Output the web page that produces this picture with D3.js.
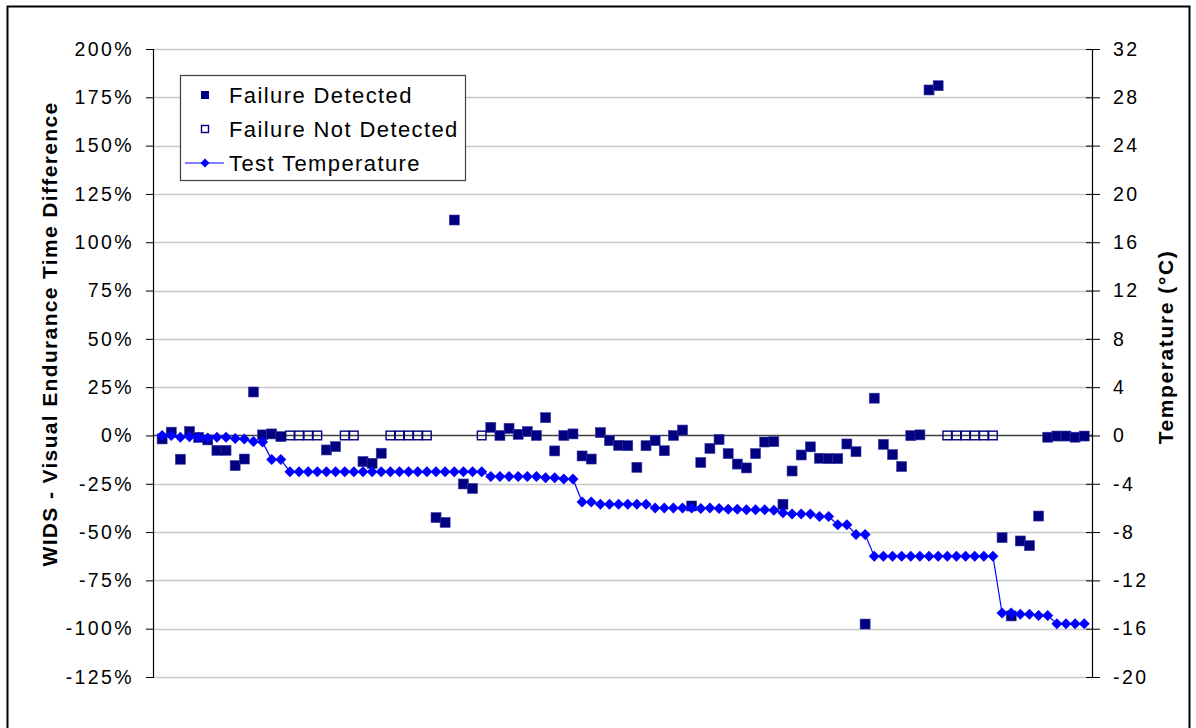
<!DOCTYPE html>
<html>
<head>
<meta charset="utf-8">
<script src="https://cdn.jsdelivr.net/npm/d3@7"></script>
<style>
  html, body { margin: 0; padding: 0; background: #fff; }
  svg { display: block; }
  text { font-family: "Liberation Sans", Arial, Helvetica, sans-serif; fill: #000; }
</style>
</head>
<body>
<svg id="chart" width="1196" height="728"></svg>
<script>
// WIDS vs visual endurance time difference (%) for each test, in test order
const diffPct = [
  -1.8, 1.7, -12.3, 2.0, -1.0, -2.3, -7.7, -7.7, -15.6, -12.2,
  22.5, 0.3, 0.8, -0.6, 0, 0, 0, 0, -7.5, -5.8,
  0, 0, -13.5, -14.4, -9.2, 0, 0, 0, 0, 0,
  -42.5, -45.0, 111.5, -25.1, -27.4, 0, 4.2, 0.0, 3.7, 0.6,
  2.0, 0.0, 9.2, -8.0, 0.0, 0.8, -10.6, -12.2, 1.5, -2.7,
  -5.1, -5.3, -16.5, -5.3, -2.7, -7.9, 0.0, 2.8, -36.5, -14.0,
  -6.7, -2.1, -9.4, -14.8, -16.8, -9.4, -3.4, -3.2, -35.6, -18.4,
  -10.1, -5.9, -11.8, -12.0, -12.0, -4.4, -8.4, -97.6, 19.3, -4.6,
  -9.9, -16.1, -0.1, 0.3, 178.8, 181.0, 0, 0, 0, 0,
  0, 0, -52.9, -93.4, -54.6, -57.0, -41.7, -0.9, -0.3, -0.3,
  -0.9, -0.3
];

// 1 = WIDS detected the failure, 0 = not detected
const detected = [
  1,1,1,1,1,1,1,1,1,1,
  1,1,1,1,0,0,0,0,1,1,
  0,0,1,1,1,0,0,0,0,0,
  1,1,1,1,1,0,1,1,1,1,
  1,1,1,1,1,1,1,1,1,1,
  1,1,1,1,1,1,1,1,1,1,
  1,1,1,1,1,1,1,1,1,1,
  1,1,1,1,1,1,1,1,1,1,
  1,1,1,1,1,1,0,0,0,0,
  0,0,1,1,1,1,1,1,1,1,
  1,1
];

// Test temperature (°C) for each test
const tempC = [
  0.0, 0.0, -0.15, -0.1, -0.15, -0.2, -0.15, -0.15, -0.25, -0.3,
  -0.5, -0.55, -2.0, -2.0, -3.0, -3.0, -3.0, -3.0, -3.0, -3.0,
  -3.0, -3.0, -3.0, -3.0, -3.0, -3.0, -3.0, -3.0, -3.0, -3.0,
  -3.0, -3.0, -3.0, -3.0, -3.0, -3.0, -3.4, -3.4, -3.4, -3.4,
  -3.4, -3.4, -3.5, -3.5, -3.6, -3.6, -5.5, -5.5, -5.7, -5.7,
  -5.7, -5.7, -5.7, -5.7, -6.0, -6.0, -6.0, -6.0, -6.0, -6.05,
  -6.0, -6.05, -6.1, -6.1, -6.15, -6.15, -6.15, -6.2, -6.4, -6.5,
  -6.5, -6.5, -6.7, -6.7, -7.4, -7.4, -8.2, -8.2, -10.0, -10.0,
  -10.0, -10.0, -10.0, -10.0, -10.0, -10.0, -10.0, -10.0, -10.0, -10.0,
  -10.0, -10.0, -14.7, -14.7, -14.8, -14.8, -14.9, -14.9, -15.6, -15.6,
  -15.6, -15.6
];

const leftTicks = [200, 175, 150, 125, 100, 75, 50, 25, 0, -25, -50, -75, -100, -125];
const rightTicks = [32, 28, 24, 20, 16, 12, 8, 4, 0, -4, -8, -12, -16, -20];

const seriesNames = ["Failure Detected", "Failure Not Detected", "Test Temperature"];
const leftTitle = "WIDS - Visual Endurance Time Difference";
const rightTitle = "Temperature (°C)";

const svg = d3.select("#chart");
const plot = { left: 153, right: 1092, top: 49, bottom: 677 };

const idx = d3.range(diffPct.length);
const x = d3.scaleLinear().domain([-1, 101.85]).range([plot.left, plot.right]);
const yL = d3.scaleLinear().domain([-125, 200]).range([plot.bottom, plot.top]);
const yR = d3.scaleLinear().domain([-20, 32]).range([plot.bottom, plot.top]);

const navy = "#000080";
const blue = "#0000ff";

// outer chart frame
svg.append("rect")
  .attr("x", 7.5).attr("y", 6.5)
  .attr("width", 1182).attr("height", 740)
  .attr("fill", "#fff").attr("stroke", "#000").attr("stroke-width", 2);

// horizontal gridlines
svg.append("g")
  .selectAll("line")
  .data(leftTicks.filter(d => d !== 0))
  .join("line")
  .attr("x1", plot.left).attr("x2", plot.right)
  .attr("y1", d => Math.round(yL(d)) + 0.5)
  .attr("y2", d => Math.round(yL(d)) + 0.5)
  .attr("stroke", "#c8c8c8").attr("stroke-width", 1.5);

// zero line (category axis)
svg.append("line")
  .attr("x1", plot.left).attr("x2", plot.right)
  .attr("y1", Math.round(yL(0)) + 0.5).attr("y2", Math.round(yL(0)) + 0.5)
  .attr("stroke", "#404040").attr("stroke-width", 1.5);

// left axis
const leftAxis = d3.axisLeft(yL)
  .tickValues(leftTicks)
  .tickSize(7)
  .tickPadding(12)
  .tickFormat(d => d + "%");
const gL = svg.append("g")
  .attr("transform", `translate(${plot.left},0)`)
  .call(leftAxis);
gL.select(".domain").attr("stroke", "#000").attr("stroke-width", 1.2);
gL.selectAll(".tick line").attr("stroke", "#000");
gL.selectAll(".tick text")
  .attr("font-size", 19.5)
  .attr("letter-spacing", 2.4)
  .attr("fill", "#000")
  .style("font-family", "'Liberation Sans', Arial, sans-serif");

// right axis
const rightAxis = d3.axisRight(yR)
  .tickValues(rightTicks)
  .tickSize(8)
  .tickPadding(13)
  .tickFormat(d => d);
const gR = svg.append("g")
  .attr("transform", `translate(${plot.right},0)`)
  .call(rightAxis);
gR.select(".domain").attr("stroke", "#000").attr("stroke-width", 1.2);
gR.selectAll(".tick line").attr("stroke", "#000").attr("x1", -6);
gR.selectAll(".tick text")
  .attr("font-size", 19.5)
  .attr("letter-spacing", 2.4)
  .attr("fill", "#000")
  .style("font-family", "'Liberation Sans', Arial, sans-serif");

// axis titles
svg.append("text")
  .attr("transform", `translate(57,334) rotate(-90)`)
  .attr("text-anchor", "middle")
  .attr("font-size", 21)
  .attr("font-weight", "bold")
  .attr("letter-spacing", 1.35)
  .text(leftTitle);

svg.append("text")
  .attr("transform", `translate(1173,347) rotate(-90)`)
  .attr("text-anchor", "middle")
  .attr("font-size", 21)
  .attr("font-weight", "bold")
  .attr("letter-spacing", 1.6)
  .text(rightTitle);

// detected failures (filled squares)
const sq = 10;
svg.append("g")
  .selectAll("rect")
  .data(idx.filter(i => detected[i] === 1))
  .join("rect")
  .attr("x", i => x(i) - sq / 2)
  .attr("y", i => yL(diffPct[i]) - sq / 2)
  .attr("width", sq).attr("height", sq)
  .attr("fill", navy)
  .attr("stroke", "#3a3aa0").attr("stroke-width", 0.6);

// undetected failures (hollow squares)
svg.append("g")
  .selectAll("rect")
  .data(idx.filter(i => detected[i] === 0))
  .join("rect")
  .attr("x", i => x(i) - sq / 2 + 0.7)
  .attr("y", i => yL(diffPct[i]) - sq / 2 + 0.7)
  .attr("width", sq - 1.4).attr("height", sq - 1.4)
  .attr("fill", "none")
  .attr("stroke", navy).attr("stroke-width", 1.4);

// test temperature line with diamond markers
const line = d3.line().x(i => x(i)).y(i => yR(tempC[i]));
svg.append("path")
  .datum(idx)
  .attr("d", line)
  .attr("fill", "none")
  .attr("stroke", blue).attr("stroke-width", 1.2);

const diamond = (cx, cy, r) => `M${cx},${cy - r}L${cx + r},${cy}L${cx},${cy + r}L${cx - r},${cy}Z`;
svg.append("g")
  .selectAll("path")
  .data(idx)
  .join("path")
  .attr("d", i => diamond(x(i), yR(tempC[i]), 5.5))
  .attr("fill", blue);

// legend
const lg = svg.append("g");
lg.append("rect")
  .attr("x", 180.5).attr("y", 75.5)
  .attr("width", 285).attr("height", 105)
  .attr("fill", "#fff").attr("stroke", "#404040").attr("stroke-width", 1.2);

const rowY = [95, 129, 163];
lg.append("rect")
  .attr("x", 201).attr("y", rowY[0] - 4).attr("width", 8).attr("height", 8)
  .attr("fill", navy);
lg.append("rect")
  .attr("x", 201.5).attr("y", rowY[1] - 3.5).attr("width", 7).attr("height", 7)
  .attr("fill", "#fff").attr("stroke", navy).attr("stroke-width", 1.4);
lg.append("line")
  .attr("x1", 185).attr("x2", 224).attr("y1", rowY[2]).attr("y2", rowY[2])
  .attr("stroke", blue).attr("stroke-width", 1.2);
lg.append("path")
  .attr("d", diamond(205, rowY[2], 4.5))
  .attr("fill", blue);

lg.selectAll("text.lbl")
  .data(seriesNames)
  .join("text")
  .attr("class", "lbl")
  .attr("x", 229)
  .attr("y", (d, i) => rowY[i])
  .attr("dy", "0.36em")
  .attr("font-size", 22)
  .attr("letter-spacing", 1.4)
  .text(d => d);
</script>
</body>
</html>
